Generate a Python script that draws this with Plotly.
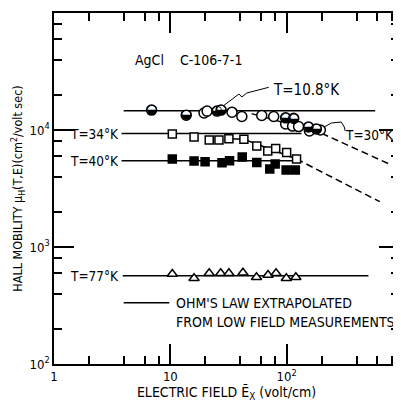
import math
import plotly.graph_objects as go

# ---- data ----
# T = 10.8 K, half-filled circles
e_108 = [6.9, 13.7, 25.2, 27.3, 98, 115, 154, 180]
mu_108 = [14800, 13400, 14500, 14800, 12700, 12600, 10600, 10200]
# T = 30 K, open circles
e_30 = [19.5, 20.7, 33.9, 41.2, 61.1, 77.4, 98, 112.5, 126.7, 157, 195]
mu_30 = [13970, 14500, 14200, 13040, 13300, 13040, 11250, 10800, 10700, 9800, 10000]
# T = 34 K, open squares
e_34 = [10.4, 16.0, 21.6, 26.2, 31.9, 42.9, 55.4, 68.8, 80.5, 100, 121.7]
mu_34 = [9250, 8710, 8220, 8220, 8400, 8320, 7300, 6620, 6950, 6420, 5650]
# T = 40 K, filled squares
e_40 = [10.4, 16.0, 19.9, 27.8, 32.3, 41.5, 55.4, 79.7, 71.6, 99, 118.7]
mu_40 = [5650, 5430, 5360, 5250, 5470, 5880, 5280, 5120, 4640, 4550, 4550]
# T = 77 K, open triangles
e_77 = [10.4, 16.0, 21.6, 27.1, 31.9, 42.1, 55.1, 69.2, 81.1, 99.4, 120]
mu_77 = [588, 540, 596, 596, 596, 602, 551, 576, 596, 540, 551]

# Ohm's law lines (extrapolated from low field)
ohm_108_e = [3.97, 577]
ohm_108_mu = [14600, 14600]
ohm_34_e = [3.81, 134]
ohm_34_mu = [9330, 9330]
ohm_40_e = [3.81, 125]
ohm_40_mu = [5470, 5470]
ohm_77_e = [3.9, 505]
ohm_77_mu = [569, 569]

# high-field curves (solid) and extrapolations (dashed)
hf_30_e = [50, 200]
hf_30_mu = [13800, 9370]
hf_30_dash_e = [200, 795]
hf_30_dash_mu = [9370, 5020]
hf_34_e = [31.9, 42.9, 121.7]
hf_34_mu = [8400, 8320, 5650]
hf_34_dash_e = [121.7, 632]
hf_34_dash_mu = [5650, 2440]

# legend sample line
legend_e = [3.97, 9.8]
legend_mu = [334, 334]

# leader lines for labels
lead_108_e = [70.2, 45.5, 41.2, 38.9, 28.4]
lead_108_mu = [23170, 20720, 19140, 20310, 16030]
lead_30_e = [203, 242.5, 295, 313, 319]
lead_30_mu = [10400, 11480, 11700, 10610, 9800]

x_major = [1, 10, 100, 1000]
x_major_text = ["1", "10", "10<sup>2</sup>", "10<sup>3</sup>"]
x_minor = [2, 4, 6, 8, 20, 40, 60, 80, 200, 400, 600, 800]
y_major = [100, 1000, 10000, 100000]
y_major_text = ["10<sup>2</sup>", "10<sup>3</sup>", "10<sup>4</sup>", "10<sup>5</sup>"]
y_minor = [200, 400, 600, 800, 2000, 4000, 6000, 8000, 20000, 40000, 60000, 80000]

FONT = "DejaVu Sans Condensed, Liberation Sans Narrow, DejaVu Sans, sans-serif"
K = "black"

fig = go.Figure()


def line(x, y, dash="solid", w=1.5):
    fig.add_trace(go.Scatter(x=x, y=y, mode="lines",
                             line=dict(color=K, width=w, dash=dash),
                             hoverinfo="skip", showlegend=False))


for xs, ys in [(ohm_108_e, ohm_108_mu), (ohm_34_e, ohm_34_mu), (ohm_40_e, ohm_40_mu),
               (ohm_77_e, ohm_77_mu), (hf_30_e, hf_30_mu), (hf_34_e, hf_34_mu),
               (legend_e, legend_mu)]:
    line(xs, ys)
for xs, ys in [(hf_30_dash_e, hf_30_dash_mu), (hf_34_dash_e, hf_34_dash_mu)]:
    line(xs, ys, dash="7px,4px")
line(lead_108_e, lead_108_mu, w=1)
line(lead_30_e, lead_30_mu, w=1)


def pts(x, y, symbol, size, fill):
    m = dict(symbol=symbol, size=size, color=fill, line=dict(color=K, width=1.5))
    fig.add_trace(go.Scatter(x=x, y=y, mode="markers", marker=m, showlegend=False))


pts(e_30, mu_30, "circle", 10, "white")
# half-filled circles: white disc with a lower-half-black glyph on top
pts(e_108, mu_108, "circle", 10, "white")
fig.add_trace(go.Scatter(x=e_108, y=mu_108, mode="text", text=["◒"] * len(e_108),
                         textposition="middle center",
                         textfont=dict(family="DejaVu Sans", size=13, color=K),
                         showlegend=False, hoverinfo="skip"))
pts(e_34, mu_34, "square", 8, "white")
pts(e_40, mu_40, "square", 8, K)
pts(e_77, mu_77, "triangle-up", 9, "white")


def lg(v):
    return math.log10(v)


def txt(x, y, s, anchor="left", size=14):
    fig.add_annotation(x=lg(x), y=lg(y), xref="x", yref="y", text=s, showarrow=False,
                       xanchor=anchor, yanchor="middle",
                       font=dict(family=FONT, size=size, color=K))


txt(4.73, 39650, "AgCl&nbsp;&nbsp;&nbsp; C-106-7-1")
txt(73, 21980, "T=10.8°K", size=15)
txt(305, 9060, "T=30°K", size=13.5)
txt(3.78, 9310, "T=34°K", "right", size=13.5)
txt(3.78, 5430, "T=40°K", "right", size=13.5)
txt(3.78, 565, "T=77°K", "right", size=13.5)
txt(10.8, 330, "OHM'S LAW EXTRAPOLATED")
txt(10.8, 229, "FROM LOW FIELD MEASUREMENTS")

axis_common = dict(
    type="log", showgrid=False, zeroline=False,
    showline=True, linecolor=K, linewidth=1.5, mirror="ticks",
    ticks="inside", ticklen=20, tickwidth=1.5, tickcolor=K,
    tickfont=dict(family=FONT, size=13, color=K),
)

# the page body has an 8px margin, so the figure is sized to end at 401x404
fig.update_layout(
    width=393, height=396,
    margin=dict(l=46, r=0, t=5, b=40),
    paper_bgcolor="white", plot_bgcolor="white",
    xaxis=dict(**axis_common, range=[0, 2.966],
               tickmode="array", tickvals=x_major, ticktext=x_major_text,
               minor=dict(tickmode="array", tickvals=x_minor, ticks="inside",
                          ticklen=8, tickwidth=1.5, tickcolor=K),
               title=dict(text="ELECTRIC FIELD Ē<sub>X</sub> (volt/cm)", standoff=3,
                          font=dict(family=FONT, size=14, color=K))),
    yaxis=dict(**axis_common, range=[2, 5],
               tickmode="array", tickvals=y_major, ticktext=y_major_text,
               minor=dict(tickmode="array", tickvals=y_minor, ticks="inside",
                          ticklen=8, tickwidth=1.5, tickcolor=K),
               title=dict(text="HALL MOBILITY μ<sub>H</sub>(T,E)(cm<sup>2</sup>/volt sec)",
                          standoff=4, font=dict(family=FONT, size=12.5, color=K))),
)

fig.write_html("out.html")
